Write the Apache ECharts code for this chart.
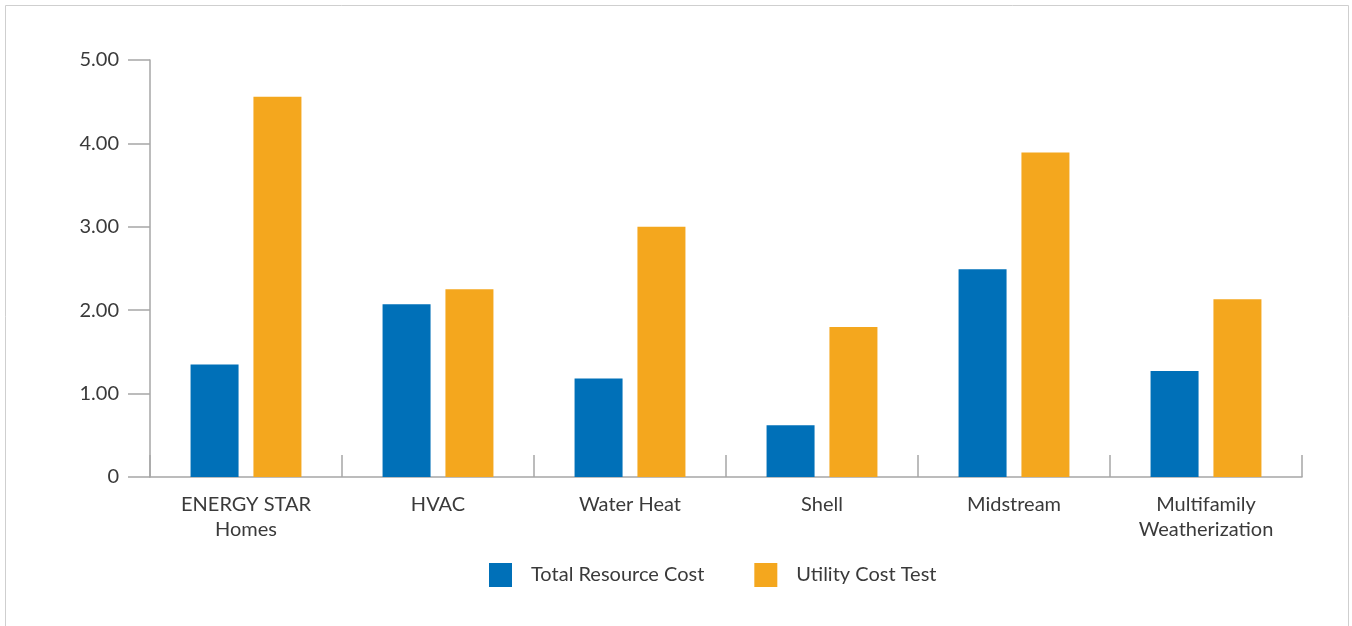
<!DOCTYPE html>
<html>
<head>
<meta charset="utf-8">
<script src="https://cdn.jsdelivr.net/npm/echarts@6/dist/echarts.min.js"></script>
<style>
  html, body { margin: 0; padding: 0; background: #fff; }
  #chart { width: 1352px; height: 626px; }
</style>
</head>
<body>
<div id="chart"></div>
<script>
// Cost-effectiveness ratios by program
const categories = ['ENERGY STAR\nHomes', 'HVAC', 'Water Heat', 'Shell', 'Midstream', 'Multifamily\nWeatherization'];
const totalResourceCost = [1.35, 2.07, 1.18, 0.62, 2.49, 1.27];
const utilityCostTest = [4.56, 2.25, 3.00, 1.80, 3.89, 2.13];
const yTicks = { min: 0, max: 5, interval: 1 };

const FONT = 'Lato, "Open Sans", sans-serif';
const TEXT = '#3a3a3a';
const AXIS = '#a6a6a6';

const chart = echarts.init(document.getElementById('chart'));
chart.setOption({
  animation: false,
  textStyle: { fontFamily: FONT },
  graphic: [{
    type: 'rect',
    shape: { x: 5.5, y: 5.5, width: 1343, height: 660 },
    style: { fill: 'none', stroke: '#cfcfcf', lineWidth: 1 },
    silent: true
  }],
  grid: { left: 150, right: 50, top: 60, bottom: 149 },
  legend: {
    left: 489,
    top: 563,
    padding: 0,
    itemWidth: 23,
    itemHeight: 24,
    itemGap: 50,
    icon: 'rect',
    textStyle: { fontFamily: FONT, fontSize: 20, color: TEXT, padding: [0, 0, 0, 14] },
    data: ['Total Resource Cost', 'Utility Cost Test']
  },
  xAxis: {
    type: 'category',
    data: categories,
    axisLine: { lineStyle: { color: AXIS, width: 1.5 } },
    axisTick: { show: true, inside: true, length: 22, lineStyle: { color: AXIS, width: 1.5 } },
    axisLabel: { fontFamily: FONT, fontSize: 20, color: TEXT, margin: 15, lineHeight: 25, interval: 0 }
  },
  yAxis: {
    type: 'value',
    min: yTicks.min,
    max: yTicks.max,
    interval: yTicks.interval,
    axisLine: { show: true, lineStyle: { color: AXIS, width: 1.5 } },
    axisTick: { show: true, length: 22, lineStyle: { color: AXIS, width: 1.5 } },
    splitLine: { show: false },
    axisLabel: {
      fontFamily: FONT, fontSize: 20, color: TEXT, margin: 31,
      formatter: v => v === 0 ? '0' : v.toFixed(2)
    }
  },
  series: [
    {
      name: 'Total Resource Cost',
      type: 'bar',
      data: totalResourceCost,
      barWidth: 48,
      barGap: '31%',
      itemStyle: { color: '#0070b8' }
    },
    {
      name: 'Utility Cost Test',
      type: 'bar',
      data: utilityCostTest,
      barWidth: 48,
      itemStyle: { color: '#f4a71e' }
    }
  ]
});
</script>
</body>
</html>
